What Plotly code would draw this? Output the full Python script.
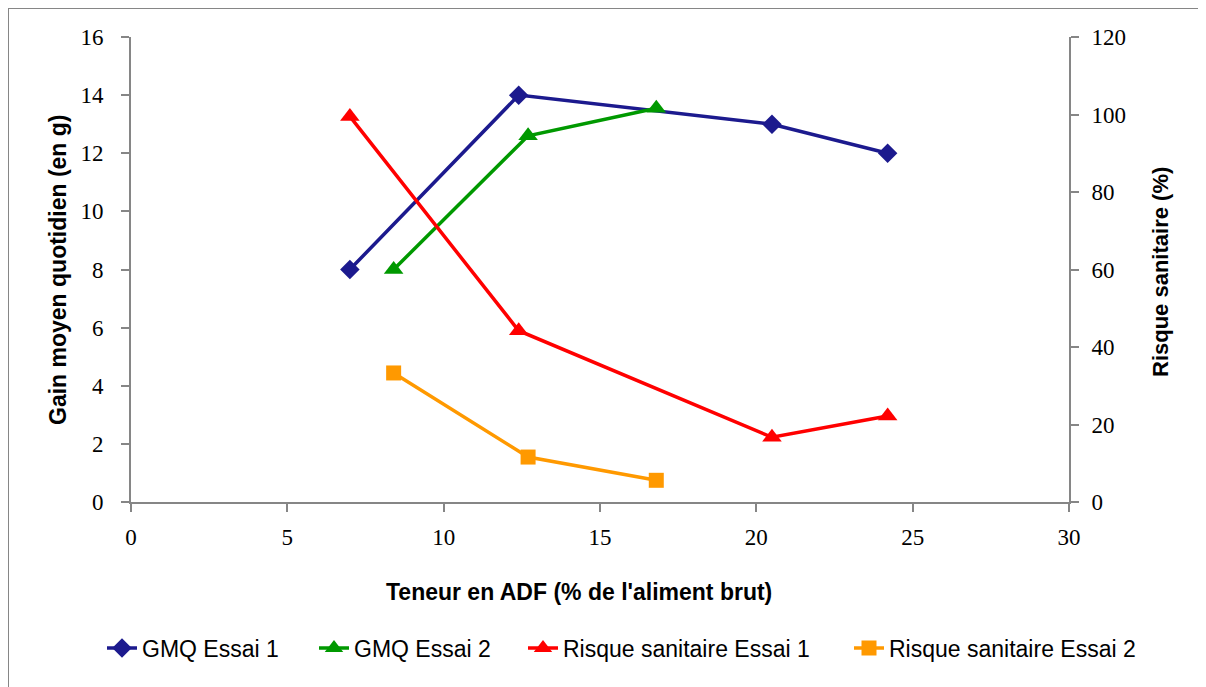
import plotly.graph_objects as go

# Data
gmq1_x = [7.0, 12.4, 20.5, 24.2]
gmq1_y = [8.0, 14.0, 13.0, 12.0]
gmq2_x = [8.4, 12.7, 16.8]
gmq2_y = [8.0, 12.6, 13.55]
risk1_x = [7.0, 12.4, 20.5, 24.2]
risk1_y = [99.5, 44.2, 16.7, 22.2]
risk2_x = [8.4, 12.7, 16.8]
risk2_y = [33.3, 11.6, 5.6]

x_ticks = [0, 5, 10, 15, 20, 25, 30]
yl_ticks = [0, 2, 4, 6, 8, 10, 12, 14, 16]
yr_ticks = [0, 20, 40, 60, 80, 100, 120]

W, H = 1206, 687
OFF = 8  # page body margin
# plot area in page pixels
PX0, PX1, PY0, PY1 = 131, 1069, 37, 502
L = PX0 - OFF
T = PY0 - OFF
pw, ph = PX1 - PX0, PY1 - PY0
R = W - L - pw
B = H - T - ph

def px(x):
    return (x - PX0) / pw

def py(y):
    return (PY1 - y) / ph

AX = "#868686"
tickfont = dict(family="Liberation Serif, Times New Roman, serif", size=23, color="black")
sans = "Liberation Sans, Arial, sans-serif"
legfont = dict(family=sans, size=23, color="black")

fig = go.Figure()
fig.add_trace(go.Scatter(x=gmq1_x, y=gmq1_y, mode="lines+markers", name="GMQ Essai 1",
                         legend="legend",
                         line=dict(color="#1C1A8E", width=3.5),
                         marker=dict(symbol="diamond", size=15, color="#1C1A8E")))
fig.add_trace(go.Scatter(x=gmq2_x, y=gmq2_y, mode="lines+markers", name="GMQ Essai 2",
                         legend="legend2",
                         line=dict(color="#009900", width=3.5),
                         marker=dict(symbol="triangle-up", size=17, color="#009900")))
fig.add_trace(go.Scatter(x=risk1_x, y=risk1_y, mode="lines+markers", name="Risque sanitaire Essai 1",
                         legend="legend3",
                         yaxis="y2", line=dict(color="#FF0000", width=3.5),
                         marker=dict(symbol="triangle-up", size=17, color="#FF0000")))
fig.add_trace(go.Scatter(x=risk2_x, y=risk2_y, mode="lines+markers", name="Risque sanitaire Essai 2",
                         legend="legend4",
                         yaxis="y2", line=dict(color="#FF9900", width=3.5),
                         marker=dict(symbol="square", size=15, color="#FF9900")))

axcommon = dict(showgrid=False, zeroline=False, showline=True, linecolor=AX, linewidth=2,
                ticks="outside", ticklen=8, tickcolor=AX, tickwidth=2, tickfont=tickfont)

def leg(text_start):
    return dict(orientation="h", x=px(text_start - 41), xanchor="left", y=py(648), yanchor="middle",
                font=legfont, bgcolor="rgba(0,0,0,0)")

fig.update_layout(
    width=W, height=H,
    margin=dict(l=L, r=R, t=T, b=B),
    paper_bgcolor="white", plot_bgcolor="white",
    xaxis=dict(range=[0, 30], tickvals=x_ticks, ticklabelstandoff=5, **axcommon),
    yaxis=dict(range=[0, 16], tickvals=yl_ticks, ticklabelstandoff=13, **axcommon),
    yaxis2=dict(range=[0, 120], tickvals=yr_ticks, overlaying="y", side="right",
                ticklabelstandoff=8, **axcommon),
    showlegend=True,
    legend=leg(143),
    legend2=leg(355),
    legend3=leg(564),
    legend4=leg(890),
    annotations=[
        dict(text="<b>Gain moyen quotidien (en g)</b>", x=px(58), y=py(270), xref="paper", yref="paper",
             textangle=-90, showarrow=False, xanchor="center", yanchor="middle",
             font=dict(family=sans, size=23, color="black")),
        dict(text="<b>Risque sanitaire (%)</b>", x=px(1160), y=py(272), xref="paper", yref="paper",
             textangle=-90, showarrow=False, xanchor="center", yanchor="middle",
             font=dict(family=sans, size=22, color="black")),
        dict(text="<b>Teneur en ADF (% de l'aliment brut)</b>", x=px(579), y=py(592), xref="paper", yref="paper",
             showarrow=False, xanchor="center", yanchor="middle",
             font=dict(family=sans, size=23, color="black")),
    ],
    shapes=[
        dict(type="rect", xref="paper", yref="paper", x0=px(8), y0=py(720), x1=px(1240), y1=py(8),
             line=dict(color=AX, width=2), fillcolor="rgba(0,0,0,0)", layer="below"),
    ],
)

fig.write_html("out.html")
